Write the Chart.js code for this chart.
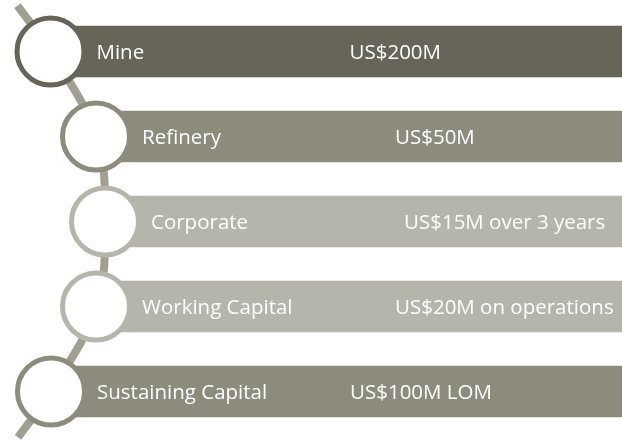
<!DOCTYPE html>
<html lang="en">
<head>
    <meta charset="UTF-8">
    <title>Capital Breakdown</title>
    <script src="https://cdn.jsdelivr.net/npm/chart.js"></script>
    <style>
        body { margin: 0; background: #ffffff; }
        #wrap { width: 622px; height: 441px; }
    </style>
</head>
<body>
    <div id="wrap"><canvas id="capChart" width="622" height="441"></canvas></div>
    <script>
        // data
        const items = ['Mine', 'Refinery', 'Corporate', 'Working Capital', 'Sustaining Capital'];
        const amounts = ['US$200M', 'US$50M', 'US$15M over 3 years', 'US$20M on operations', 'US$100M LOM'];

        // layout (not data): where each circle sits along the curve, colours per row
        const circleX = [50.5, 96, 105, 96, 51];
        const rowColors = ['#666557', '#8d8b7c', '#b6b5ab', '#b6b5ab', '#8d8b7c'];
        const xMax = 622;
        const labelInset = 46;
        const amountGap = 253;
        const textNudge = 2;
        const tailRow = 0.54;
        const tailDx = -33;

        const rows = items.map((_, i) => i);
        const yMin = -0.5, yMax = rows.length - 0.5;

        const connector = [{ x: circleX[0] + tailDx, y: -tailRow }]
            .concat(rows.map(i => ({ x: circleX[i], y: i })))
            .concat([{ x: circleX[rows.length - 1] + tailDx, y: rows.length - 1 + tailRow }]);

        const textPlugin = {
            id: 'rowText',
            afterDatasetsDraw(chart) {
                const ctx = chart.ctx;
                const xs = chart.scales.x, ys = chart.scales.y;
                ctx.save();
                ctx.fillStyle = '#ffffff';
                ctx.font = '20.5px "Open Sans"';
                ctx.textBaseline = 'middle';
                rows.forEach(i => {
                    const px = xs.getPixelForValue(circleX[i]) + labelInset;
                    const py = ys.getPixelForValue(i) + textNudge;
                    ctx.fillText(items[i], px, py);
                    ctx.fillText(amounts[i], px + amountGap, py);
                });
                ctx.restore();
            }
        };

        // keep the row axis exactly on the rows, no tick rounding
        function lockRows(scale) {
            scale.min = yMin;
            scale.max = yMax;
        }

        new Chart(document.getElementById('capChart'), {
            data: {
                datasets: [
                    {
                        type: 'line',
                        data: connector,
                        borderColor: '#a09f91',
                        borderWidth: 8,
                        borderCapStyle: 'butt',
                        pointRadius: 0,
                        tension: 0.4,
                        capBezierPoints: false,
                        clip: false,
                        order: 3
                    },
                    {
                        type: 'bar',
                        indexAxis: 'y',
                        data: rows.map(i => ({ x: [circleX[i], xMax], y: i })),
                        backgroundColor: rowColors,
                        borderWidth: 0,
                        barThickness: 51,
                        order: 2
                    },
                    {
                        type: 'scatter',
                        data: rows.map(i => ({ x: circleX[i], y: i })),
                        pointRadius: 33.5,
                        pointHoverRadius: 33.5,
                        pointBorderWidth: 5,
                        pointBackgroundColor: '#ffffff',
                        pointBorderColor: rowColors,
                        clip: false,
                        order: 1
                    }
                ]
            },
            options: {
                responsive: false,
                animation: false,
                devicePixelRatio: 1,
                layout: { autoPadding: false, padding: { top: 9, bottom: 7, left: 0, right: 0 } },
                scales: {
                    x: { type: 'linear', min: 0, max: xMax, display: false, offset: false, bounds: 'data' },
                    y: {
                        type: 'linear', min: yMin, max: yMax, reverse: true, display: false,
                        offset: false, bounds: 'data', grace: 0,
                        afterDataLimits: lockRows,
                        afterBuildTicks: lockRows
                    }
                },
                plugins: {
                    legend: { display: false },
                    tooltip: { enabled: false }
                }
            },
            plugins: [textPlugin]
        });
    </script>
</body>
</html>
